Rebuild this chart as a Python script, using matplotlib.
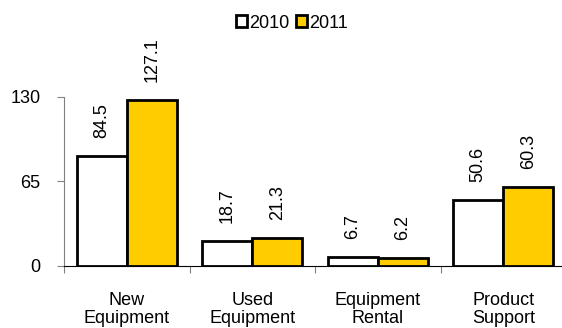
import matplotlib.pyplot as plt
import numpy as np

plt.rcParams['font.family'] = ['Liberation Sans', 'DejaVu Sans']

# Revenue by segment, 2010 vs 2011
categories = ['New\nEquipment', 'Used\nEquipment', 'Equipment\nRental', 'Product\nSupport']
values_2010 = [84.5, 18.7, 6.7, 50.6]
values_2011 = [127.1, 21.3, 6.2, 60.3]
yticks = [0, 65, 130]

fig = plt.figure(figsize=(5.62, 3.28), dpi=100)
ax = fig.add_axes([64 / 562, 62.3 / 328, 502 / 562, 169 / 328])

x = np.arange(len(categories))
w = 0.4
b1 = ax.bar(x - w / 2, values_2010, w, color='white', edgecolor='black', linewidth=2, label='2010')
b2 = ax.bar(x + w / 2, values_2011, w, color='#FFCC00', edgecolor='black', linewidth=2, label='2011')

# rotated value labels above each bar
for bars, vals in [(b1, values_2010), (b2, values_2011)]:
    for rect, v in zip(bars, vals):
        ax.annotate(f'{v:.1f}', (rect.get_x() + rect.get_width() / 2, v),
                    xytext=(0, 13), textcoords='offset points',
                    ha='center', va='bottom', rotation=90, fontsize=13,
                    annotation_clip=False)

ax.set_xlim(-0.5, len(categories) - 0.5)
ax.set_ylim(0, 130)
ax.set_yticks(yticks)
ax.set_yticklabels([str(t) for t in yticks], fontsize=13)

# category labels centred, ticks at the boundaries
ax.set_xticks(np.arange(len(categories) + 1) - 0.5)
ax.set_xticklabels([])
ax.set_xticks(x, minor=True)
ax.set_xticklabels(categories, minor=True, fontsize=13, linespacing=1.05)
ax.tick_params(axis='x', which='minor', length=0, pad=19)
ax.tick_params(axis='x', which='major', length=5, width=0.8, color='#808080', direction='out')
ax.tick_params(axis='y', length=5, width=0.8, color='#808080', direction='out', pad=12)

for s in ['top', 'right']:
    ax.spines[s].set_visible(False)
ax.spines['left'].set_color('#808080')
ax.spines['left'].set_linewidth(0.8)
ax.spines['bottom'].set_color('black')
ax.spines['bottom'].set_linewidth(0.8)

fig.legend(handles=[b1, b2], loc='center', bbox_to_anchor=(292 / 562, 1 - 23 / 328),
           ncol=2, frameon=False, fontsize=13, handlelength=0.6, handleheight=0.6,
           handletextpad=0.1, columnspacing=0.4, borderpad=0)

fig.savefig('out.png', dpi=100)
